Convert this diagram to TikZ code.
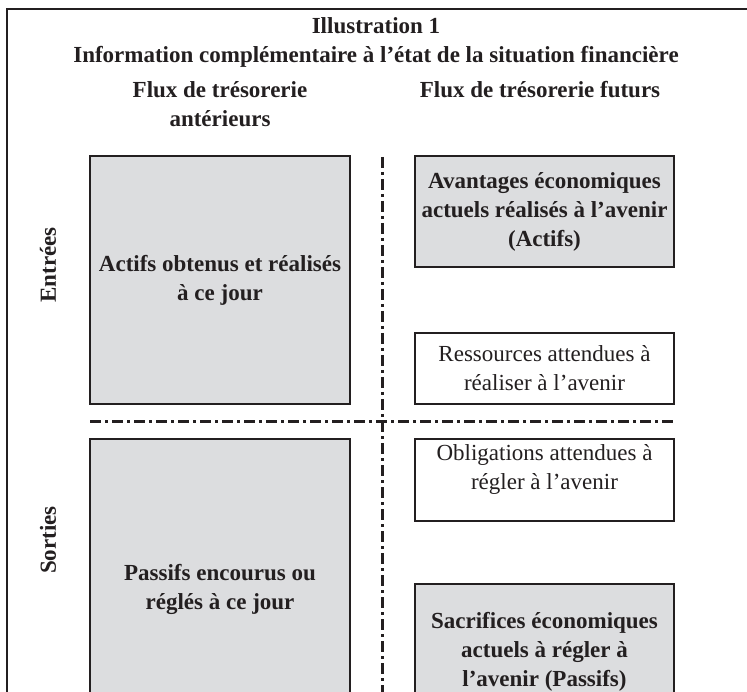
\documentclass[tikz,border=0pt]{standalone}
\usepackage{fontspec}
\setmainfont{Liberation Serif}
\usepackage{xcolor}
\usepackage{tikz}
\usetikzlibrary{positioning,calc}

\definecolor{boxgray}{HTML}{DCDDDF}
\definecolor{ink}{HTML}{231F20}

\begin{document}
\begin{tikzpicture}[x=1pt, y=-1pt, every node/.style={align=center, text=ink}]
\tikzset{
  panel/.style={draw=ink, line width=1.8pt, minimum width=259pt, inner sep=0pt},
  shaded/.style={panel, fill=boxgray, font=\fontsize{23}{29}\selectfont\bfseries},
  plain/.style={panel, fill=white, font=\fontsize{23}{29}\selectfont},
  heading/.style={font=\fontsize{23}{29}\selectfont\bfseries},
  sepline/.style={draw=ink, line width=3pt, dash pattern=on 11pt off 4pt on 3pt off 4pt}
}
\clip (0,0) rectangle (747,692);
% frame
\draw[ink, line width=2.6pt] (7,692) -- (7,9) -- (750,9);
% headings
\node[heading] (title) at (376,26) {Illustration 1};
\node[heading] (subtitle) at (376,57) {Information compl\'ementaire \`a l'\'etat de la situation financi\`ere};
\node[heading] (past) at (220,104) {Flux de tr\'esorerie\\ant\'erieurs};
\node[heading] (future) at (540,90) {Flux de tr\'esorerie futurs};
\node[heading, rotate=90] (inflows) at (48,265) {Entr\'ees};
\node[heading, rotate=90] (outflows) at (48,540) {Sorties};
% left column
\node[shaded, minimum width=260pt, minimum height=248pt] (actifs) at (220,280) {Actifs obtenus et r\'ealis\'es\\\`a ce jour};
\node[shaded, minimum width=260pt, minimum height=300pt] (passifs) at (220,589) {Passifs encourus ou\\r\'egl\'es \`a ce jour};
% right column
\node[shaded, minimum height=111pt] (avantages) at (544.5,211.5) {Avantages \'economiques\\actuels r\'ealis\'es \`a l'avenir\\(Actifs)};
\node[plain, minimum height=71pt] (ressources) at (544.5,368.5) {Ressources attendues \`a\\r\'ealiser \`a l'avenir};
\node[plain, minimum height=82pt] (obligations) at (544.5,480) {};
\node[font=\fontsize{23}{29}\selectfont] (obltext) at (544.5,469) {Obligations attendues \`a\\r\'egler \`a l'avenir};
\node[shaded, minimum height=136pt] (sacrifices) at (544.5,652) {Sacrifices \'economiques\\actuels \`a r\'egler \`a\\l'avenir (Passifs)};
% separators
\coordinate (vtop) at (382,157);
\coordinate (vbot) at (382,700);
\coordinate (hleft) at (90,422);
\coordinate (hright) at (674,422);
\draw[sepline] (vtop) -- (vbot);
\draw[sepline] (hleft) -- (hright);
\end{tikzpicture}
\end{document}
